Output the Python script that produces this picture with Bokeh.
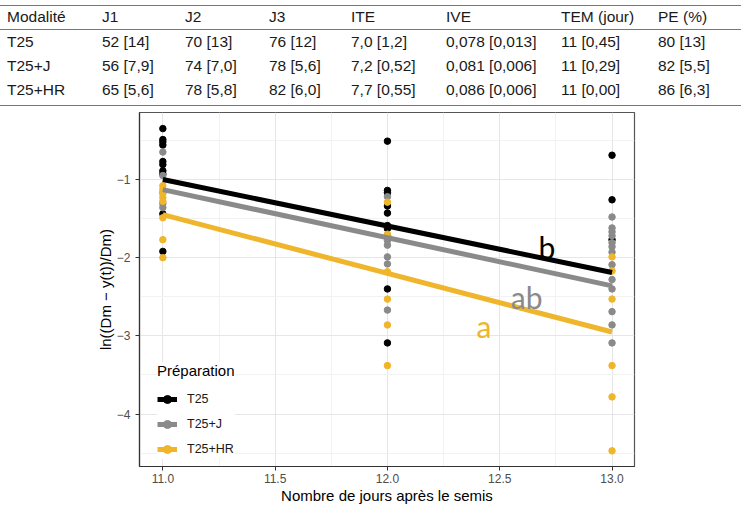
from bokeh.plotting import figure
from bokeh.models import (Range1d, FixedTicker, CustomJSTickFormatter, Legend, LegendItem, Div)
from bokeh.layouts import column
from bokeh.core.properties import value
from bokeh.embed import file_html
from bokeh.resources import INLINE

# ---------------- data ----------------
table_headers = ["Modalité", "J1", "J2", "J3", "ITE", "IVE", "TEM (jour)", "PE (%)"]
table_row_t25 = ["T25", "52 [14]", "70 [13]", "76 [12]", "7,0 [1,2]", "0,078 [0,013]", "11 [0,45]", "80 [13]"]
table_row_t25j = ["T25+J", "56 [7,9]", "74 [7,0]", "78 [5,6]", "7,2 [0,52]", "0,081 [0,006]", "11 [0,29]", "82 [5,5]"]
table_row_t25hr = ["T25+HR", "65 [5,6]", "78 [5,8]", "82 [6,0]", "7,7 [0,55]", "0,086 [0,006]", "11 [0,00]", "86 [6,3]"]

groups = ["T25", "T25+J", "T25+HR"]

t25_x = [11]*10 + [12]*10 + [13]*3
t25_y = [-0.35, -0.49, -0.52, -0.56, -0.77, -0.81, -0.89, -0.93, -1.44, -1.92,
         -0.51, -1.14, -1.17, -1.34, -1.43, -1.59, -1.63, -1.72, -2.40, -3.09,
         -0.69, -1.26, -1.77]

t25j_x = [11]*5 + [12]*6 + [13]*13
t25j_y = [-0.65, -0.95, -1.17, -1.31, -1.36,
          -1.22, -1.78, -1.84, -1.99, -2.08, -2.67,
          -1.48, -1.62, -1.67, -1.72, -1.81, -1.86, -1.93, -2.09, -2.28, -2.40, -2.69, -2.86, -3.09]

t25hr_x = [11]*8 + [12]*6 + [13]*6
t25hr_y = [-1.08, -1.13, -1.18, -1.23, -1.28, -1.49, -1.77, -2.00,
           -1.29, -1.70, -2.18, -2.53, -2.86, -3.38,
           -1.99, -2.17, -2.53, -3.38, -3.78, -4.47]

fit_x = [11, 13]
fit_t25 = [-1.00, -2.19]
fit_t25j = [-1.13, -2.36]
fit_t25hr = [-1.45, -2.95]

letters = ["b", "ab", "a"]
letter_x = [12.71, 12.62, 12.43]
letter_y = [-1.87, -2.50, -2.88]

x_ticks = [11.0, 11.5, 12.0, 12.5, 13.0]
y_ticks = [-1, -2, -3, -4]

# ---------------- styles ----------------
COL_BLACK = "#000000"
COL_GRAY = "#8a8a8a"
COL_YELLOW = "#EFB52B"
FONT = "Liberation Sans"
W = 745

# ---------------- table (HTML) ----------------
col_pos = [7, 102, 185, 269, 351, 446, 561, 658]
row_pos = [17, 42, 66, 90]
rule_pos = [5, 29, 105]
rows = [table_headers, table_row_t25, table_row_t25j, table_row_t25hr]
parts = []
for r, yy in zip(rows, row_pos):
    for c, xx in zip(r, col_pos):
        parts.append(
            f'<span style="position:absolute;left:{xx}px;top:{yy - 9}px;line-height:18px;'
            f'white-space:nowrap;">{c}</span>')
for yy in rule_pos:
    parts.append(
        f'<div style="position:absolute;left:0px;top:{yy}px;width:{W - 4}px;height:0px;'
        f'border-top:1.5px solid #777777;"></div>')
html = (f'<div style="position:relative;width:{W}px;height:110px;margin:0;padding:0;'
        f'font-family:\'{FONT}\';font-size:15.5px;color:#1a1a1a;">' + "".join(parts) + '</div>')
tab = Div(text=html, width=W, height=110, margin=(0, 0, 0, 0))

# ---------------- plot ----------------
p = figure(width=W, height=406, x_range=Range1d(10.896, 13.10), y_range=Range1d(-4.67, -0.144),
           toolbar_location=None, output_backend="svg",
           min_border_left=139, min_border_right=W - 634, min_border_top=2, min_border_bottom=50)
p.outline_line_color = "#555555"
p.outline_line_width = 1.2

p.xaxis.ticker = FixedTicker(ticks=x_ticks, minor_ticks=[11.25, 11.75, 12.25, 12.75])
p.yaxis.ticker = FixedTicker(ticks=y_ticks, minor_ticks=[-0.5, -1.5, -2.5, -3.5, -4.5])
p.xaxis.formatter = CustomJSTickFormatter(code="return tick.toFixed(1);")
p.yaxis.formatter = CustomJSTickFormatter(code="return tick.toFixed(0).replace('-', '\u2212');")
for ax in (p.xaxis, p.yaxis):
    ax.major_label_text_font = FONT
    ax.major_label_text_font_size = "12px"
    ax.major_label_text_color = "#4d4d4d"
    ax.axis_line_color = "#333333"
    ax.axis_line_width = 1.2
    ax.major_tick_line_color = "#333333"
    ax.major_tick_in = 0
    ax.major_tick_out = 4
    ax.minor_tick_in = 0
    ax.minor_tick_out = 0
    ax.axis_label_text_font = FONT
    ax.axis_label_text_font_size = "15px"
    ax.axis_label_text_font_style = "normal"
    ax.axis_label_text_color = "#000000"
p.xaxis.major_label_standoff = 3
p.yaxis.major_label_standoff = 5
p.xaxis.axis_label = "Nombre de jours après le semis"
p.yaxis.axis_label = "ln((Dm \u2212 y(t))/Dm)"
p.xaxis.axis_label_standoff = 1
p.yaxis.axis_label_standoff = 0

for g in (p.xgrid, p.ygrid):
    g.grid_line_color = "#e6e6e6"
    g.grid_line_width = 1
    g.minor_grid_line_color = "#f2f2f2"
    g.minor_grid_line_width = 1

s1 = p.scatter(t25_x, t25_y, size=6.5, color=COL_BLACK)
s2 = p.scatter(t25j_x, t25j_y, size=6.5, color=COL_GRAY)
s3 = p.scatter(t25hr_x, t25hr_y, size=6.5, color=COL_YELLOW)
l1 = p.line(fit_x, fit_t25, line_width=5, color=COL_BLACK)
l2 = p.line(fit_x, fit_t25j, line_width=5, color=COL_GRAY)
l3 = p.line(fit_x, fit_t25hr, line_width=5, color=COL_YELLOW)

p.text(x=letter_x, y=letter_y, text=letters, text_color=[COL_BLACK, COL_GRAY, COL_YELLOW],
       text_font=value("Lato"), text_font_size="30px", text_align="center",
       text_baseline="alphabetic")

legend = Legend(items=[LegendItem(label=groups[0], renderers=[l1, s1]),
                       LegendItem(label=groups[1], renderers=[l2, s2]),
                       LegendItem(label=groups[2], renderers=[l3, s3])],
                title="Préparation", location=(18, 7))
legend.title_text_font = FONT
legend.title_text_font_size = "15px"
legend.title_text_font_style = "normal"
legend.title_text_color = "#000000"
legend.title_standoff = 10
legend.label_text_font = FONT
legend.label_text_font_size = "12.5px"
legend.label_text_color = "#1a1a1a"
legend.glyph_width = 20
legend.glyph_height = 20
legend.label_height = 20
legend.label_standoff = 10
legend.spacing = 5
legend.padding = 4
legend.margin = 0
legend.border_line_color = None
legend.background_fill_color = "white"
legend.background_fill_alpha = 1.0
p.add_layout(legend)

layout = column(tab, p, spacing=0)
open("out.html", "w").write(file_html(layout, INLINE))
